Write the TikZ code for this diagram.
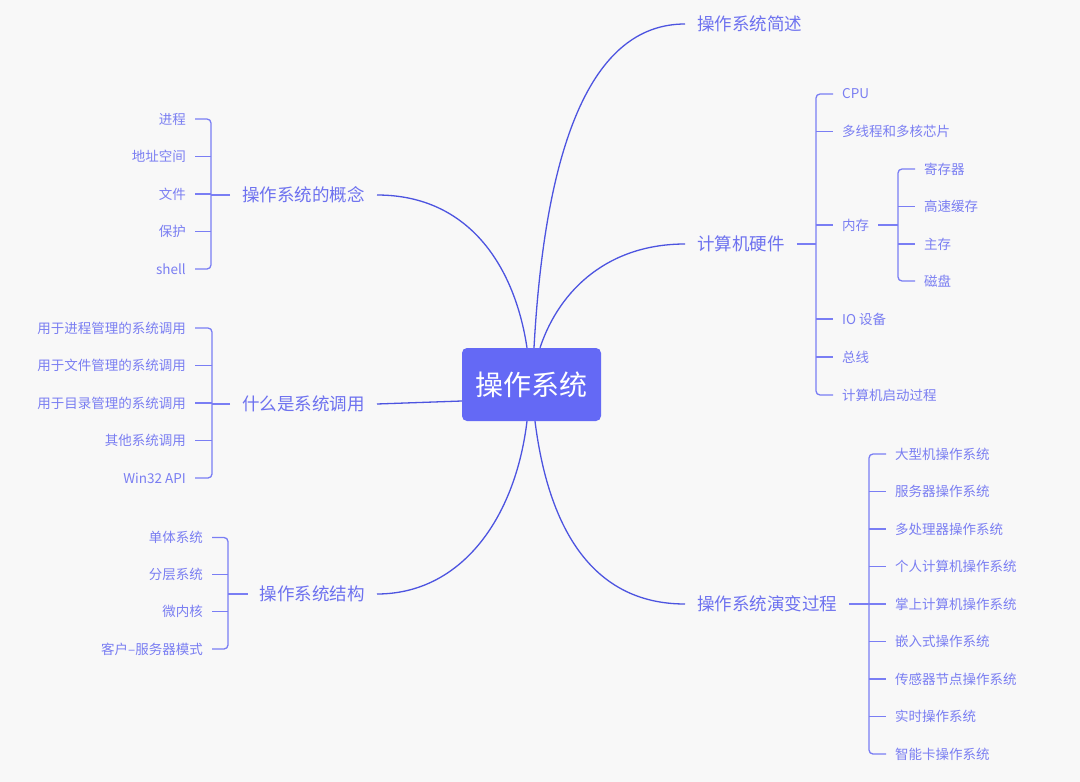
\documentclass[tikz,border=0pt]{standalone}
\usepackage{fontspec}
\setmainfont{Noto Sans CJK SC}
\definecolor{bgc}{HTML}{F8F8F8}
\definecolor{rootc}{HTML}{6469F5}
\definecolor{curvec}{HTML}{4D54E0}
\definecolor{brkc}{HTML}{7A7EF4}
\definecolor{branchc}{HTML}{6D71EF}
\definecolor{leafc}{HTML}{7A7EF2}
\tikzset{
  rootbox/.style={fill=rootc, rounded corners=5pt, minimum width=139pt, minimum height=73pt, text=white, font=\fontsize{28}{32}\selectfont, inner sep=0pt},
  leaf/.style={font=\fontsize{13.5}{16}\selectfont, text=leafc, inner xsep=9pt, inner ysep=2pt},
  branch/.style={font=\fontsize{17.5}{20}\selectfont, text=branchc, inner xsep=12pt, inner ysep=2pt},
  curve/.style={draw=curvec, line width=1.3pt},
  brk/.style={draw=brkc, line width=1.3pt, rounded corners=4pt},
  tick/.style={draw=brkc, line width=1.3pt},
}
\begin{document}
\begin{tikzpicture}[x=1pt,y=-1pt]
\fill[bgc] (0,0) rectangle (1080,782);
\useasboundingbox (0,0) rectangle (1080,782);

\node[rootbox] (root) at (531.5,384.5) {操作系统};

% branches
\node[branch, anchor=west] (desc) at (685,24) {操作系统简述};
\node[branch, anchor=west] (hw) at (685,244) {计算机硬件};
\node[branch, anchor=west] (evo) at (685,604) {操作系统演变过程};
\node[branch, anchor=east] (concept) at (377,195) {操作系统的概念};
\node[branch, anchor=east] (syscall) at (377,404) {什么是系统调用};
\node[branch, anchor=east] (struct) at (377,594) {操作系统结构};

% main connectors
\draw[curve] ([xshift=2.5pt]root.north) .. controls +(11,-200) and +(-95,0) .. (desc.west);
\draw[curve] ([xshift=8.5pt]root.north) .. controls +(20,-60) and +(-75,0) .. (hw.west);
\draw[curve] ([xshift=-4.5pt]root.north) .. controls +(-12,-80) and +(93,0) .. (concept.east);
\draw[curve] ([xshift=-4.5pt]root.south) .. controls +(-12,99) and +(83,0) .. (struct.east);
\draw[curve] ([xshift=3.5pt]root.south) .. controls +(15,119) and +(-85,0) .. (evo.west);
\draw[curve] (syscall.east) -- ([yshift=-16.5pt]root.west);

% hardware group
\node[leaf, anchor=west] (cpu) at (833,94) {CPU};
\node[leaf, anchor=west] (mt) at (833,131.5) {多线程和多核芯片};
\node[leaf, anchor=west] (mem) at (833,225) {内存};
\node[leaf, anchor=west] (io) at (833,319) {IO 设备};
\node[leaf, anchor=west] (bus) at (833,357) {总线};
\node[leaf, anchor=west] (boot) at (833,395) {计算机启动过程};
\coordinate (hwb) at (816,244);
\draw[brk] (cpu.west) -- (cpu.west -| hwb) -- (boot.west -| hwb) -- (boot.west);
\draw[tick] (hw.east) -- (hwb);
\foreach \n in {mt,mem,io,bus} \draw[tick] (\n.west -| hwb) -- (\n.west);

% memory subgroup
\node[leaf, anchor=west] (reg) at (915,169) {寄存器};
\node[leaf, anchor=west] (cache) at (915,206.5) {高速缓存};
\node[leaf, anchor=west] (mainmem) at (915,244) {主存};
\node[leaf, anchor=west] (disk) at (915,281) {磁盘};
\coordinate (memb) at (898,225);
\draw[brk] (reg.west) -- (reg.west -| memb) -- (disk.west -| memb) -- (disk.west);
\draw[tick] (mem.east) -- (memb);
\foreach \n in {cache,mainmem} \draw[tick] (\n.west -| memb) -- (\n.west);

% evolution group
\node[leaf, anchor=west] (e1) at (886,454) {大型机操作系统};
\node[leaf, anchor=west] (e2) at (886,491.5) {服务器操作系统};
\node[leaf, anchor=west] (e3) at (886,529) {多处理器操作系统};
\node[leaf, anchor=west] (e4) at (886,566.5) {个人计算机操作系统};
\node[leaf, anchor=west] (e5) at (886,604) {掌上计算机操作系统};
\node[leaf, anchor=west] (e6) at (886,641.5) {嵌入式操作系统};
\node[leaf, anchor=west] (e7) at (886,679) {传感器节点操作系统};
\node[leaf, anchor=west] (e8) at (886,716.5) {实时操作系统};
\node[leaf, anchor=west] (e9) at (886,754) {智能卡操作系统};
\coordinate (evb) at (869,604);
\draw[brk] (e1.west) -- (e1.west -| evb) -- (e9.west -| evb) -- (e9.west);
\draw[tick] (evo.east) -- (evb);
\foreach \n in {e2,e3,e4,e5,e6,e7,e8} \draw[tick] (\n.west -| evb) -- (\n.west);

% concept group
\node[leaf, anchor=east] (c1) at (195,119) {进程};
\node[leaf, anchor=east] (c2) at (195,156.5) {地址空间};
\node[leaf, anchor=east] (c3) at (195,194) {文件};
\node[leaf, anchor=east] (c4) at (195,231.5) {保护};
\node[leaf, anchor=east] (c5) at (195,269) {shell};
\coordinate (cb) at (211,195);
\draw[brk] (c1.east) -- (c1.east -| cb) -- (c5.east -| cb) -- (c5.east);
\draw[tick] (concept.west) -- (cb);
\foreach \n in {c2,c3,c4} \draw[tick] (\n.east -| cb) -- (\n.east);

% syscall group
\node[leaf, anchor=east] (s1) at (195,328) {用于进程管理的系统调用};
\node[leaf, anchor=east] (s2) at (195,365.5) {用于文件管理的系统调用};
\node[leaf, anchor=east] (s3) at (195,403) {用于目录管理的系统调用};
\node[leaf, anchor=east] (s4) at (195,440.5) {其他系统调用};
\node[leaf, anchor=east] (s5) at (195,478) {Win32 API};
\coordinate (sb) at (212,404);
\draw[brk] (s1.east) -- (s1.east -| sb) -- (s5.east -| sb) -- (s5.east);
\draw[tick] (syscall.west) -- (sb);
\foreach \n in {s2,s3,s4} \draw[tick] (\n.east -| sb) -- (\n.east);

% structure group
\node[leaf, anchor=east] (t1) at (212,537.5) {单体系统};
\node[leaf, anchor=east] (t2) at (212,574.5) {分层系统};
\node[leaf, anchor=east] (t3) at (212,611.5) {微内核};
\node[leaf, anchor=east] (t4) at (212,649) {客户–服务器模式};
\coordinate (tb) at (228,594);
\draw[brk] (t1.east) -- (t1.east -| tb) -- (t4.east -| tb) -- (t4.east);
\draw[tick] (struct.west) -- (tb);
\foreach \n in {t2,t3} \draw[tick] (\n.east -| tb) -- (\n.east);
\end{tikzpicture}
\end{document}
